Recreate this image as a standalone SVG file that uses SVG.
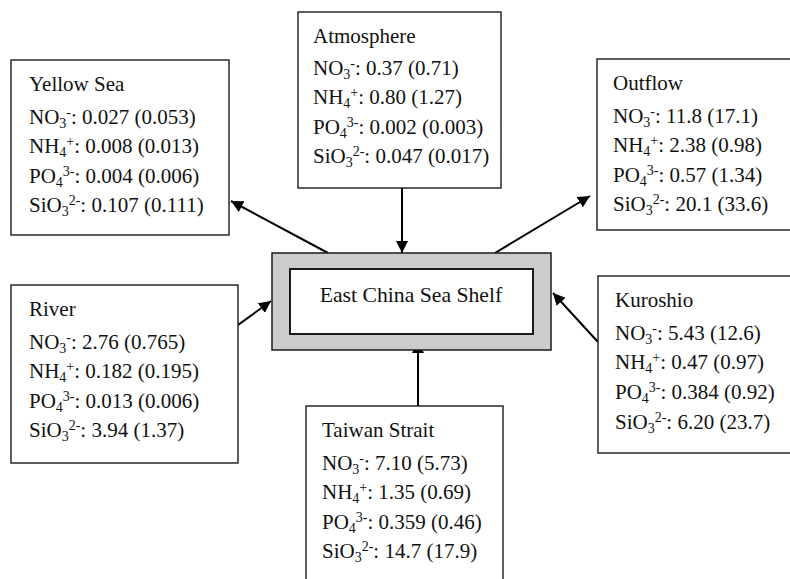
<svg xmlns="http://www.w3.org/2000/svg" width="790" height="579" viewBox="0 0 790 579">
  <style>
    text { font-family: "Liberation Serif", "Times New Roman", serif; font-size: 21px; fill: #111; }
    .sb, .sp { font-size: 14px; }
    .title { font-size: 21.7px; }
    .box { fill: #fff; stroke: #1a1a1a; stroke-width: 1.4; }
    .shelf-outer { fill: #cccccc; stroke: #1a1a1a; stroke-width: 1.5; }
    .shelf-inner { fill: #fff; stroke: #1a1a1a; stroke-width: 2; }
    .flow { stroke: #000; stroke-width: 2; fill: none; marker-end: url(#head); }
  </style>
  <defs>
    <marker id="head" viewBox="0 0 12 12" refX="12" refY="6" markerWidth="12" markerHeight="12" markerUnits="userSpaceOnUse" orient="auto">
      <path d="M0,0 L12,6 L0,12 Z" fill="#000"/>
    </marker>
  </defs>

  <rect width="790" height="579" fill="#fff"/>

  <!-- flux arrows -->
  <g id="connectors">
    <line class="flow" x1="402" y1="188" x2="402" y2="253"/>
    <line class="flow" x1="328" y1="253" x2="231" y2="201"/>
    <line class="flow" x1="495" y1="253" x2="590" y2="196"/>
    <line class="flow" x1="238" y1="325" x2="271" y2="301"/>
    <line class="flow" x1="598" y1="342" x2="553" y2="293"/>
    <line class="flow" x1="418" y1="406" x2="418" y2="341"/>
  </g>

  <!-- central shelf box -->
  <g id="shelf">
    <rect class="shelf-outer" x="272" y="253" width="279" height="97"/>
    <rect class="shelf-inner" x="290" y="269" width="243" height="65"/>
    <text class="title" x="411" y="302" text-anchor="middle">East China Sea Shelf</text>
  </g>

  <g id="atmosphere">
    <rect class="box" x="298" y="12" width="203" height="176"/>
    <text x="313" y="43">Atmosphere</text>
    <text x="313" y="75">NO<tspan class="sb" dy="4">3</tspan><tspan class="sp" dy="-11">-</tspan><tspan dy="7">: 0.37 (0.71)</tspan></text>
    <text x="313" y="104">NH<tspan class="sb" dy="4">4</tspan><tspan class="sp" dy="-11">+</tspan><tspan dy="7">: 0.80 (1.27)</tspan></text>
    <text x="313" y="134">PO<tspan class="sb" dy="4">4</tspan><tspan class="sp" dy="-11">3-</tspan><tspan dy="7">: 0.002 (0.003)</tspan></text>
    <text x="313" y="163">SiO<tspan class="sb" dy="4">3</tspan><tspan class="sp" dy="-11">2-</tspan><tspan dy="7">: 0.047 (0.017)</tspan></text>
  </g>

  <g id="yellow-sea">
    <rect class="box" x="11" y="60" width="218" height="175"/>
    <text x="29" y="91">Yellow Sea</text>
    <text x="29" y="124">NO<tspan class="sb" dy="4">3</tspan><tspan class="sp" dy="-11">-</tspan><tspan dy="7">: 0.027 (0.053)</tspan></text>
    <text x="29" y="153">NH<tspan class="sb" dy="4">4</tspan><tspan class="sp" dy="-11">+</tspan><tspan dy="7">: 0.008 (0.013)</tspan></text>
    <text x="29" y="183">PO<tspan class="sb" dy="4">4</tspan><tspan class="sp" dy="-11">3-</tspan><tspan dy="7">: 0.004 (0.006)</tspan></text>
    <text x="29" y="212">SiO<tspan class="sb" dy="4">3</tspan><tspan class="sp" dy="-11">2-</tspan><tspan dy="7">: 0.107 (0.111)</tspan></text>
  </g>

  <g id="outflow">
    <rect class="box" x="597" y="59" width="200" height="171"/>
    <text x="613" y="90">Outflow</text>
    <text x="613" y="123">NO<tspan class="sb" dy="4">3</tspan><tspan class="sp" dy="-11">-</tspan><tspan dy="7">: 11.8 (17.1)</tspan></text>
    <text x="613" y="152">NH<tspan class="sb" dy="4">4</tspan><tspan class="sp" dy="-11">+</tspan><tspan dy="7">: 2.38 (0.98)</tspan></text>
    <text x="613" y="182">PO<tspan class="sb" dy="4">4</tspan><tspan class="sp" dy="-11">3-</tspan><tspan dy="7">: 0.57 (1.34)</tspan></text>
    <text x="613" y="211">SiO<tspan class="sb" dy="4">3</tspan><tspan class="sp" dy="-11">2-</tspan><tspan dy="7">: 20.1 (33.6)</tspan></text>
  </g>

  <g id="river">
    <rect class="box" x="11" y="285" width="227" height="178"/>
    <text x="29" y="316">River</text>
    <text x="29" y="349">NO<tspan class="sb" dy="4">3</tspan><tspan class="sp" dy="-11">-</tspan><tspan dy="7">: 2.76 (0.765)</tspan></text>
    <text x="29" y="378">NH<tspan class="sb" dy="4">4</tspan><tspan class="sp" dy="-11">+</tspan><tspan dy="7">: 0.182 (0.195)</tspan></text>
    <text x="29" y="408">PO<tspan class="sb" dy="4">4</tspan><tspan class="sp" dy="-11">3-</tspan><tspan dy="7">: 0.013 (0.006)</tspan></text>
    <text x="29" y="437">SiO<tspan class="sb" dy="4">3</tspan><tspan class="sp" dy="-11">2-</tspan><tspan dy="7">: 3.94 (1.37)</tspan></text>
  </g>

  <g id="kuroshio">
    <rect class="box" x="598" y="276" width="200" height="177"/>
    <text x="615" y="307">Kuroshio</text>
    <text x="615" y="340">NO<tspan class="sb" dy="4">3</tspan><tspan class="sp" dy="-11">-</tspan><tspan dy="7">: 5.43 (12.6)</tspan></text>
    <text x="615" y="369">NH<tspan class="sb" dy="4">4</tspan><tspan class="sp" dy="-11">+</tspan><tspan dy="7">: 0.47 (0.97)</tspan></text>
    <text x="615" y="399">PO<tspan class="sb" dy="4">4</tspan><tspan class="sp" dy="-11">3-</tspan><tspan dy="7">: 0.384 (0.92)</tspan></text>
    <text x="615" y="429">SiO<tspan class="sb" dy="4">3</tspan><tspan class="sp" dy="-11">2-</tspan><tspan dy="7">: 6.20 (23.7)</tspan></text>
  </g>

  <g id="taiwan-strait">
    <rect class="box" x="306" y="406" width="197" height="185"/>
    <text x="322" y="437">Taiwan Strait</text>
    <text x="322" y="470">NO<tspan class="sb" dy="4">3</tspan><tspan class="sp" dy="-11">-</tspan><tspan dy="7">: 7.10 (5.73)</tspan></text>
    <text x="322" y="499">NH<tspan class="sb" dy="4">4</tspan><tspan class="sp" dy="-11">+</tspan><tspan dy="7">: 1.35 (0.69)</tspan></text>
    <text x="322" y="529">PO<tspan class="sb" dy="4">4</tspan><tspan class="sp" dy="-11">3-</tspan><tspan dy="7">: 0.359 (0.46)</tspan></text>
    <text x="322" y="558">SiO<tspan class="sb" dy="4">3</tspan><tspan class="sp" dy="-11">2-</tspan><tspan dy="7">: 14.7 (17.9)</tspan></text>
  </g>
</svg>
